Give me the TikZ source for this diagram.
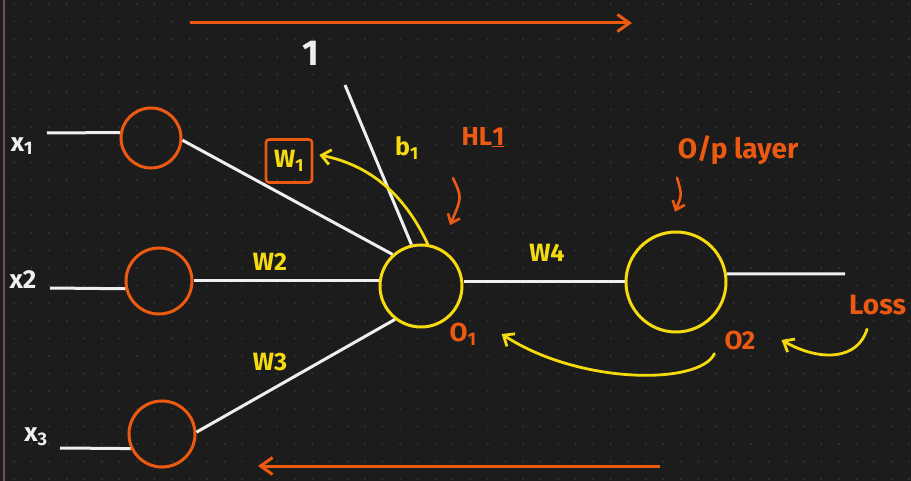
\documentclass[tikz,border=0pt]{standalone}
\usepackage{fontspec}
\setmainfont{Fira Sans}
\usetikzlibrary{arrows.meta}
\definecolor{bg}{HTML}{1C1C1C}
\definecolor{dotc}{HTML}{3C3C3C}
\definecolor{org}{HTML}{EC5A12}
\definecolor{ylw}{HTML}{F5DA10}
\definecolor{wht}{HTML}{EFEFEF}
\definecolor{margin}{HTML}{7A4A5E}
\newcommand\lbl[1]{\fontsize{#1}{#1}\selectfont\bfseries}
\begin{document}
\begin{tikzpicture}[x=1pt,y=-1pt,
  inneuron/.style={circle,draw=org,line width=3pt,inner sep=0pt},
  yneuron/.style={circle,draw=ylw,line width=3pt,inner sep=0pt},
  wire/.style={draw=wht,line width=3pt},
  flow/.style={draw=org,line width=3pt,-{Straight Barb[length=12pt,width=17pt]}},
  grad/.style={draw=ylw,line width=2.8pt,line cap=round,-{Straight Barb[length=9pt,width=15pt]}},
  hint/.style={draw=org,line width=2.6pt,line cap=round,-{Straight Barb[length=8pt,width=13pt]}},
  wtxt/.style={text=wht,inner sep=0pt,font=\lbl{26}},
  ytxt/.style={text=ylw,inner sep=0pt,font=\lbl{25}},
  otxt/.style={text=org,inner sep=0pt,font=\lbl{26}}]

% canvas: dark page with dotted grid and margin rule
\fill[bg] (0,0) rectangle (911,481);
\useasboundingbox (0,0) rectangle (911,481);
\foreach \i in {0,...,51}
  \foreach \j in {0,...,27}
    \fill[dotc] (14+17.55*\i,4+17.6*\j) circle (0.9pt);
\draw[margin,line width=1.2pt] (4,0) -- (4,481);

% neurons
\node[inneuron,minimum size=60] (i1) at (151,138) {};
\node[inneuron,minimum size=66] (i2) at (159,281) {};
\node[inneuron,minimum size=66] (i3) at (162,434) {};
\node[yneuron,minimum size=82] (h) at (421,286) {};
\node[yneuron,minimum size=100] (o) at (676,282) {};

% free ends of wires
\coordinate (x1s) at (47,133);
\coordinate (x2s) at (50,288);
\coordinate (x3s) at (60,448);
\coordinate (bias) at (345,85);
\coordinate (yout) at (845,274);

% wires
\draw[wire] (x1s) -- (i1.170);
\draw[wire] (x2s) -- (i2.193);
\draw[wire] (x3s) -- (i3.205);
\draw[wire] (i1.-4) -- (h.132);
\draw[wire] (i2.east) -- (i2.east -| h.west);
\draw[wire] (i3.3) -- (h.232);
\draw[wire] (bias) -- (h.103);
\draw[wire] (h.east |- o.west) -- (o.west);
\draw[wire] (o.9) -- (yout);

% input labels
\node[wtxt] (lx1) at (22,146) {x\textsubscript{1}};
\node[wtxt] (lx2) at (23,280) {x2};
\node[wtxt] (lx3) at (36,437) {x\textsubscript{3}};
\node[wtxt,font=\lbl{36}] (one) at (311,53) {1};

% weight and bias labels
\node[ytxt,draw=org,line width=2.6pt,rounded corners=3pt,minimum width=46,minimum height=43] (w1) at (289,161) {W\textsubscript{1}};
\node[ytxt] (w2) at (270,262) {W2};
\node[ytxt] (w3) at (270,362) {W3};
\node[ytxt] (w4) at (547,253) {W4};
\node[ytxt] (b1) at (407,148) {b\textsubscript{1}};

% layer annotations
\node[otxt] (hl) at (483,137) {HL\underline{1}};
\node[otxt,font=\lbl{28}] (olp) at (738,150) {O/p layer};
\node[otxt] (o1) at (463,334) {O\textsubscript{1}};
\node[otxt] (o2) at (740,340) {O2};
\node[otxt,font=\lbl{28},anchor=west] (loss) at (849,305) {Loss};

% direction of the passes
\coordinate (fs) at (190,23);
\coordinate (fe) at (632,23);
\coordinate (bs) at (660,466);
\coordinate (be) at (258,466);
\draw[flow] (fs) -- (fe);
\draw[flow] (bs) -- (be);

% pointers to the layers
\draw[hint] ([shift={(-30pt,-31pt)}]hl.south) .. controls ([shift={(-21pt,-50pt)}]hl.south) .. ([shift={(-33pt,-78pt)}]hl.south);
\draw[hint] ([shift={(-61pt,-13pt)}]olp.south) .. controls ([shift={(-56pt,-30pt)}]olp.south) .. ([shift={(-63pt,-47pt)}]olp.south);

% gradient flow
\draw[grad] (h.81) .. controls (405,195) and (370,165) .. ([shift={(6pt,6pt)}]w1.east);
\draw[grad] ([shift={(-10pt,-4pt)}]o2.south west) .. controls (700,385) and (580,385) .. ([xshift=25pt]o1.east);
\draw[grad] ([shift={(18pt,-14pt)}]loss.south west) .. controls (858,360) and (820,362) .. ([xshift=26pt]o2.east);
\end{tikzpicture}
\end{document}
